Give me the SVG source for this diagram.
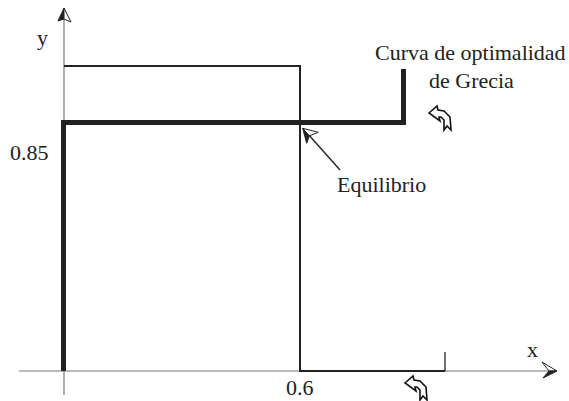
<svg xmlns="http://www.w3.org/2000/svg" width="569" height="401" viewBox="0 0 569 401">
<style>
  text { font-family: "Liberation Serif", "DejaVu Serif", serif; font-size: 22px; fill: #222; }
  .axis { stroke: #777; stroke-width: 1.2; fill: none; }
  .thick { stroke: #222; stroke-width: 5; fill: none; stroke-linejoin: miter; stroke-linecap: butt; }
  .thin { stroke: #222; stroke-width: 2; fill: none; stroke-linejoin: miter; }
  .ptr { stroke: #222; stroke-width: 1.4; fill: none; }
  .hw { fill: #fff; stroke: #222; stroke-width: 1; stroke-linejoin: miter; }
  .hb { fill: #222; stroke: #222; stroke-width: 1; stroke-linejoin: miter; }
  .icon { fill: #fff; stroke: #111; stroke-width: 1.6; stroke-linejoin: miter; }
</style>
<defs>
  <path id="dirIcon" class="icon" d="M0,8 L8,1 L9,5 L15,6 L21,12 L22,25 L18,21 L15,25 L15,15 L12,12 L10,12 L11,16 Z"/>
</defs>
<rect width="569" height="401" fill="#fff"/>

<g id="axes">
  <line class="axis" x1="64" y1="395" x2="64" y2="19"/>
  <path class="hb" d="M64,8 L58,21 L64,19 Z"/>
  <path class="hw" d="M64,8 L71,22 L64,19 Z"/>
  <line class="axis" x1="19" y1="371" x2="550" y2="371"/>
  <path class="hw" d="M557,371 L542,362 L549,371 Z"/>
  <path class="hb" d="M557,371 L543,378 L549,371 Z"/>
</g>

<g id="curva-grecia">
  <path class="thick" d="M63.5,371 L63.5,122.5 L403.5,122.5 L403.5,69"/>
</g>

<g id="curva-otra">
  <path class="thin" d="M64,66 L300,66 L300,371 L445,371"/>
  <line x1="445" y1="371" x2="445" y2="352" stroke="#222" stroke-width="1.3"/>
</g>

<g id="connectors">
  <line class="ptr" x1="340" y1="170" x2="308" y2="134"/>
  <path class="hw" d="M302.7,128.3 L318.3,132.3 L309.3,135.8 Z"/>
  <path class="hb" d="M302.7,128.3 L306.7,143.3 L309.3,135.8 Z"/>
</g>

<g id="icon-top"><use href="#dirIcon" x="429" y="105"/></g>
<g id="icon-bottom"><use href="#dirIcon" x="405" y="375"/></g>

<g id="labels">
  <text x="37" y="45">y</text>
  <text x="10" y="160">0.85</text>
  <text x="527" y="357">x</text>
  <text x="286" y="395">0.6</text>
  <text x="337" y="192">Equilibrio</text>
  <text x="375" y="60">Curva de optimalidad</text>
  <text x="429" y="88">de Grecia</text>
</g>
</svg>
